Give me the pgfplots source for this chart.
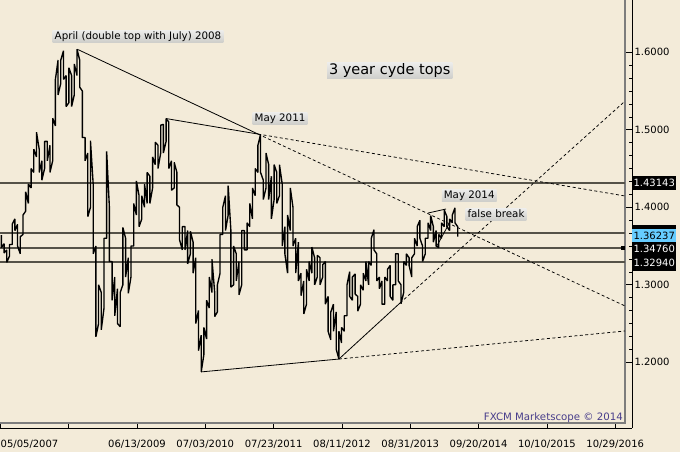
\documentclass[border=0pt]{standalone}
\usepackage{pgfplots}
\pgfplotsset{compat=1.18}
\usepackage{fontspec}
\setmainfont{DejaVu Sans}
\definecolor{bgc}{RGB}{243,235,217}
\definecolor{hlc}{RGB}{85,82,72}
\definecolor{frc}{RGB}{125,125,125}
\definecolor{bluec}{RGB}{102,204,255}
\definecolor{fxc}{RGB}{72,61,139}
\definecolor{boxtop}{RGB}{236,236,234}
\definecolor{boxbot}{RGB}{206,206,202}
\begin{document}
\begin{tikzpicture}[x=1pt,y=1pt]
\fill[bgc] (0,-24) rectangle (680,428);
\useasboundingbox (0,-24) rectangle (680,428);
\begin{axis}[
  at={(0,0)}, anchor=south west, scale only axis, width=632pt, height=428pt,
  xmin=2007.333, xmax=2017.086, ymin=1.11523, ymax=1.66748,
  axis x line*=bottom, axis y line*=right,
  axis line style={-, black, line width=0.8pt},
  tick align=inside, major tick length=6pt, minor tick length=3pt,
  major tick style={black, line width=0.8pt},
  minor tick style={black, line width=0.7pt},
  xtick={2007.340,2008.394,2009.447,2010.501,2011.556,2012.610,2013.664,2014.718,2015.773,2016.827},
  xticklabels={,,06/13/2009,07/03/2010,07/23/2011,08/11/2012,08/31/2013,09/20/2014,10/10/2015,10/29/2016},
  minor x tick num=6,
  ytick={1.2,1.3,1.4,1.5,1.6}, minor y tick num=5,
  yticklabel style={/pgf/number format/fixed, /pgf/number format/fixed zerofill, /pgf/number format/precision=4, /pgf/number format/assume math mode=true, xshift=-1pt},
  tick label style={font=\fontsize{10}{12}\selectfont, text=black},
  xticklabel style={yshift=-8.5pt},
]
% inner frame
\addplot[frc, line width=1.2pt, mark=none] coordinates {(2007.333,1.12168) (2016.978,1.12168) (2016.978,1.66748)};
% horizontal levels
\addplot[hlc, line width=1.5pt, mark=none] coordinates {(2007.333,1.43143) (2016.978,1.43143)};
\addplot[hlc, line width=1.5pt, mark=none] coordinates {(2007.333,1.3671) (2016.978,1.3671)};
\addplot[hlc, line width=1.5pt, mark=none] coordinates {(2007.333,1.3476) (2016.978,1.3476)};
\addplot[hlc, line width=1.5pt, mark=none] coordinates {(2007.333,1.3294) (2016.978,1.3294)};
% price bars
\addplot[black, line width=1.35pt, mark=none, line join=bevel] coordinates {
(2007.354,1.3640)(2007.354,1.3480)(2007.396,1.3530)(2007.396,1.3410)
(2007.438,1.3450)(2007.438,1.3290)(2007.479,1.3370)(2007.479,1.3520)
(2007.521,1.3520)(2007.521,1.3780)(2007.563,1.3850)(2007.563,1.3700)
(2007.604,1.3780)(2007.604,1.3500)(2007.646,1.3400)(2007.646,1.3620)
(2007.688,1.3650)(2007.688,1.3900)(2007.729,1.3950)(2007.729,1.4200)
(2007.771,1.4050)(2007.771,1.4300)(2007.813,1.4250)(2007.813,1.4500)
(2007.854,1.4450)(2007.854,1.4750)(2007.896,1.4650)(2007.896,1.4970)
(2007.938,1.4750)(2007.938,1.4450)(2007.979,1.4600)(2007.979,1.4350)
(2008.021,1.4500)(2008.021,1.4850)(2008.063,1.4850)(2008.063,1.4600)
(2008.104,1.4800)(2008.104,1.4450)(2008.146,1.4600)(2008.146,1.5150)
(2008.188,1.5050)(2008.188,1.5650)(2008.229,1.5900)(2008.229,1.5450)
(2008.271,1.5600)(2008.271,1.5900)(2008.313,1.6020)(2008.313,1.5650)
(2008.354,1.5700)(2008.354,1.5300)(2008.396,1.5350)(2008.396,1.5800)
(2008.438,1.5700)(2008.438,1.5300)(2008.479,1.5450)(2008.479,1.5850)
(2008.521,1.5700)(2008.521,1.6040)(2008.563,1.5900)(2008.563,1.5550)
(2008.604,1.5500)(2008.604,1.4900)(2008.646,1.4900)(2008.646,1.4600)
(2008.688,1.4700)(2008.688,1.3880)(2008.729,1.4000)(2008.729,1.4860)
(2008.771,1.4300)(2008.771,1.3400)(2008.813,1.3500)(2008.813,1.2330)
(2008.854,1.2500)(2008.854,1.3000)(2008.896,1.2900)(2008.896,1.2420)
(2008.938,1.2700)(2008.938,1.3600)(2008.979,1.3600)(2008.979,1.4720)
(2009.021,1.4000)(2009.021,1.3300)(2009.063,1.3300)(2009.063,1.2800)
(2009.104,1.3100)(2009.104,1.2600)(2009.146,1.2950)(2009.146,1.2500)
(2009.188,1.2460)(2009.188,1.2900)(2009.229,1.3000)(2009.229,1.3740)
(2009.271,1.3600)(2009.271,1.3100)(2009.313,1.3350)(2009.313,1.2890)
(2009.354,1.3100)(2009.354,1.3500)(2009.396,1.3500)(2009.396,1.4050)
(2009.438,1.3900)(2009.438,1.4340)(2009.479,1.4150)(2009.479,1.3750)
(2009.521,1.3850)(2009.521,1.4150)(2009.563,1.4000)(2009.563,1.4300)
(2009.604,1.4050)(2009.604,1.4450)(2009.646,1.4400)(2009.646,1.4050)
(2009.688,1.4250)(2009.688,1.4650)(2009.729,1.4550)(2009.729,1.4840)
(2009.771,1.4800)(2009.771,1.4500)(2009.813,1.4700)(2009.813,1.5060)
(2009.854,1.5070)(2009.854,1.4700)(2009.896,1.4850)(2009.896,1.5145)
(2009.938,1.5100)(2009.938,1.4500)(2009.979,1.4600)(2009.979,1.4220)
(2010.021,1.4250)(2010.021,1.4580)(2010.063,1.4450)(2010.063,1.4030)
(2010.104,1.4000)(2010.104,1.3580)(2010.146,1.3450)(2010.146,1.3750)
(2010.188,1.3750)(2010.188,1.3450)(2010.229,1.3700)(2010.229,1.3270)
(2010.271,1.3400)(2010.271,1.3690)(2010.313,1.3550)(2010.313,1.3150)
(2010.354,1.3350)(2010.354,1.2500)(2010.396,1.2670)(2010.396,1.2150)
(2010.438,1.2350)(2010.438,1.1876)(2010.479,1.2100)(2010.479,1.2450)
(2010.521,1.2300)(2010.521,1.2800)(2010.563,1.2700)(2010.563,1.3100)
(2010.604,1.2900)(2010.604,1.3330)(2010.646,1.2900)(2010.646,1.2590)
(2010.688,1.2650)(2010.688,1.3000)(2010.729,1.3150)(2010.729,1.3650)
(2010.771,1.3650)(2010.771,1.4000)(2010.813,1.4150)(2010.813,1.3700)
(2010.854,1.3900)(2010.854,1.4280)(2010.896,1.3700)(2010.896,1.2970)
(2010.938,1.3000)(2010.938,1.3500)(2010.979,1.3400)(2010.979,1.3050)
(2011.021,1.3300)(2011.021,1.2870)(2011.063,1.3000)(2011.063,1.3700)
(2011.104,1.3700)(2011.104,1.3450)(2011.146,1.3450)(2011.146,1.3800)
(2011.188,1.3750)(2011.188,1.4050)(2011.229,1.3850)(2011.229,1.4250)
(2011.271,1.4150)(2011.271,1.4500)(2011.313,1.4450)(2011.313,1.4800)
(2011.354,1.4940)(2011.354,1.4450)(2011.396,1.4350)(2011.396,1.4100)
(2011.438,1.4250)(2011.438,1.4700)(2011.479,1.4550)(2011.479,1.4100)
(2011.521,1.4400)(2011.521,1.3850)(2011.563,1.4100)(2011.563,1.4550)
(2011.604,1.4450)(2011.604,1.4050)(2011.646,1.4150)(2011.646,1.4550)
(2011.688,1.4300)(2011.688,1.3500)(2011.729,1.3750)(2011.729,1.3400)
(2011.771,1.3150)(2011.771,1.3900)(2011.813,1.3700)(2011.813,1.4250)
(2011.854,1.4000)(2011.854,1.3500)(2011.896,1.3600)(2011.896,1.3150)
(2011.938,1.3550)(2011.938,1.3050)(2011.979,1.3150)(2011.979,1.2860)
(2012.021,1.3050)(2012.021,1.2624)(2012.063,1.2750)(2012.063,1.3200)
(2012.104,1.3050)(2012.104,1.3300)(2012.146,1.3150)(2012.146,1.3486)
(2012.188,1.3350)(2012.188,1.3000)(2012.229,1.3100)(2012.229,1.3380)
(2012.271,1.3350)(2012.271,1.3000)(2012.313,1.3100)(2012.313,1.3260)
(2012.354,1.3300)(2012.354,1.2750)(2012.396,1.2850)(2012.396,1.2400)
(2012.438,1.2290)(2012.438,1.2650)(2012.479,1.2750)(2012.479,1.2400)
(2012.521,1.2650)(2012.521,1.2170)(2012.563,1.2042)(2012.563,1.2400)
(2012.604,1.2250)(2012.604,1.2450)(2012.646,1.2400)(2012.646,1.2600)
(2012.688,1.2600)(2012.688,1.3000)(2012.729,1.3170)(2012.729,1.2850)
(2012.771,1.2800)(2012.771,1.3100)(2012.813,1.3140)(2012.813,1.2880)
(2012.854,1.2850)(2012.854,1.2660)(2012.896,1.2750)(2012.896,1.3000)
(2012.938,1.2930)(2012.938,1.3150)(2012.979,1.3050)(2012.979,1.3300)
(2013.021,1.3000)(2013.021,1.3300)(2013.063,1.3250)(2013.063,1.3600)
(2013.104,1.3711)(2013.104,1.3450)(2013.146,1.3400)(2013.146,1.3050)
(2013.188,1.3100)(2013.188,1.2950)(2013.229,1.3050)(2013.229,1.2750)
(2013.271,1.2750)(2013.271,1.3100)(2013.313,1.3050)(2013.313,1.3200)
(2013.354,1.3250)(2013.354,1.2850)(2013.396,1.2800)(2013.396,1.3000)
(2013.438,1.3000)(2013.438,1.3400)(2013.479,1.3400)(2013.479,1.3050)
(2013.521,1.3000)(2013.521,1.2755)(2013.563,1.2900)(2013.563,1.3300)
(2013.604,1.3250)(2013.604,1.3400)(2013.646,1.3350)(2013.646,1.3250)
(2013.688,1.3100)(2013.688,1.3350)(2013.729,1.3400)(2013.729,1.3600)
(2013.771,1.3500)(2013.771,1.3750)(2013.813,1.3832)(2013.813,1.3600)
(2013.854,1.3500)(2013.854,1.3300)(2013.896,1.3400)(2013.896,1.3600)
(2013.938,1.3600)(2013.938,1.3800)(2013.979,1.3700)(2013.979,1.3893)
(2014.021,1.3750)(2014.021,1.3550)(2014.063,1.3700)(2014.063,1.3500)
(2014.104,1.3480)(2014.104,1.3650)(2014.146,1.3600)(2014.146,1.3800)
(2014.188,1.3750)(2014.188,1.3967)(2014.229,1.3880)(2014.229,1.3750)
(2014.271,1.3700)(2014.271,1.3850)(2014.313,1.3800)(2014.313,1.3900)
(2014.354,1.3993)(2014.354,1.3800)(2014.396,1.3750)(2014.396,1.3620)
};
% solid trend lines
\addplot[black, line width=0.8pt, mark=none] coordinates {(2008.526,1.6039) (2011.315,1.4945)};
\addplot[black, line width=0.8pt, mark=none] coordinates {(2009.896,1.5145) (2011.315,1.4945)};
\addplot[black, line width=0.8pt, mark=none] coordinates {(2010.438,1.1876) (2012.563,1.2042)};
\addplot[black, line width=0.8pt, mark=none] coordinates {(2012.563,1.2042) (2013.506,1.2765)};
\addplot[black, line width=0.8pt, mark=none] coordinates {(2013.938,1.3926) (2014.216,1.3978)};
\addplot[black, line width=0.8pt, mark=none] coordinates {(2014.077,1.3505) (2014.280,1.3815)};
% dashed extensions
\addplot[black, line width=0.75pt, mark=none, dash pattern=on 3pt off 2.5pt] coordinates {(2013.506,1.2765) (2016.978,1.5370)};
\addplot[black, line width=0.75pt, mark=none, dash pattern=on 3pt off 2.5pt] coordinates {(2011.315,1.4945) (2016.978,1.4146)};
\addplot[black, line width=0.75pt, mark=none, dash pattern=on 3pt off 2.5pt] coordinates {(2011.315,1.4945) (2016.978,1.2727)};
\addplot[black, line width=0.75pt, mark=none, dash pattern=on 3pt off 2.5pt] coordinates {(2012.563,1.2042) (2016.978,1.2404)};
% current price marker
\addplot[only marks, mark=square*, mark size=1.5pt, black] coordinates {(2016.94,1.3476)};
\end{axis}
% first date label
\node[anchor=north west, inner sep=0pt, font=\fontsize{10}{12}\selectfont] at (0.5,-12) {05/05/2007};
% right value boxes
\tikzset{vb/.style={anchor=west, inner sep=0pt, minimum width=44pt, minimum height=14.5pt, font=\fontsize{10}{12}\selectfont}}
\node[vb, fill=black, text=white] at (632,245.1) {1.43143};
\fill[black] (632,188) rectangle (676,203);
\node[vb, fill=black, text=white, minimum height=13pt] at (632,179.6) {1.34760};
\node[vb, fill=black, text=white, minimum height=16pt] at (632,165) {1.32940};
\node[vb, fill=bluec, text=black, minimum height=13pt] at (632,192.6) {1.36237};
% annotation boxes
\tikzset{ab/.style={top color=boxtop, bottom color=boxbot, draw=none, inner xsep=2pt, inner ysep=0.8pt, text height=7.6pt, text depth=2.2pt, font=\fontsize{10.3}{12}\selectfont}}
\node[ab] at (138,391.5) {April (double top with July) 2008};
\node[ab] at (280,309.6) {May 2011};
\node[ab, font=\fontsize{14.5}{17}\selectfont, text height=10.8pt, text depth=3.2pt, inner ysep=1pt] at (389.7,357.2) {3 year cyde tops};
\node[ab] at (469.2,232.5) {May 2014};
\node[ab] at (496,213.4) {false break};
\node[anchor=east, inner sep=0pt, text=fxc, font=\fontsize{10.2}{12}\selectfont] at (623,10.5) {FXCM Marketscope © 2014};
\end{tikzpicture}
\end{document}
